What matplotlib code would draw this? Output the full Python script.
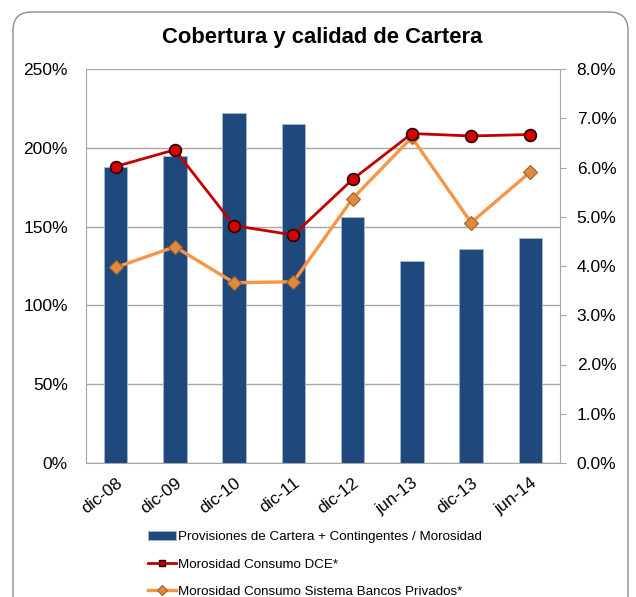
import numpy as np
import matplotlib
matplotlib.use("Agg")
import matplotlib.pyplot as plt
from matplotlib.patches import FancyBboxPatch
from matplotlib.lines import Line2D
from matplotlib.ticker import FuncFormatter

plt.rcParams['font.family'] = ['Liberation Sans', 'DejaVu Sans']

# data
categories = ['dic-08', 'dic-09', 'dic-10', 'dic-11', 'dic-12', 'jun-13', 'dic-13', 'jun-14']
cobertura = [188, 195, 222, 215, 156, 128, 136, 143]            # % left axis
mora_dce = [6.02, 6.36, 4.82, 4.63, 5.76, 6.69, 6.64, 6.67]       # % right axis
mora_bancos = [3.97, 4.39, 3.66, 3.68, 5.37, 6.61, 4.88, 5.91]    # % right axis

labels = ['Provisiones de Cartera + Contingentes / Morosidad',
          'Morosidad Consumo DCE*',
          'Morosidad Consumo Sistema Bancos Privados*']

W, H = 636, 597
fig = plt.figure(figsize=(W / 100, H / 100), dpi=100)

# rounded frame round the chart
frame = FancyBboxPatch((13 / W, -0.05), 615 / W, 1 - 12 / H + 0.05,
                       boxstyle="round,pad=0,rounding_size=0.03",
                       transform=fig.transFigure, facecolor='white',
                       edgecolor='#8c8c8c', lw=1.0, zorder=-10)
fig.patches.append(frame)

ax = fig.add_axes([86 / W, 1 - 463 / H, 474 / W, 394 / H])
ax.patch.set_alpha(0)
x = np.arange(len(categories))

bars = ax.bar(x, cobertura, width=0.4, color='#1F497D', edgecolor='#a7b9d1',
              linewidth=0.6, zorder=2)
ax.set_xlim(-0.5, len(categories) - 0.5)
ax.set_ylim(0, 250)
ax.set_yticks(np.arange(0, 251, 50))
ax.yaxis.set_major_formatter(FuncFormatter(lambda v, p: f"{v:.0f}%"))
ax.grid(axis='y', color='#a6a6a6', lw=1.0, zorder=0)
ax.set_axisbelow(True)
ax.set_xticks(x)
ax.set_xticklabels(categories, rotation=38, ha='right', rotation_mode='anchor')
ax.tick_params(axis='x', length=0, pad=9, labelsize=12.5)
ax.tick_params(axis='y', length=0, pad=13, labelsize=12.5)
for s in ['top', 'right']:
    ax.spines[s].set_visible(False)
for s in ['left', 'bottom']:
    ax.spines[s].set_color('#a6a6a6')

ax2 = ax.twinx()
l1, = ax2.plot(x, mora_dce, color='#C00000', lw=2.0, marker='o', ms=8.5,
               mfc='#d80000', mec='#2a0000', mew=1.2, zorder=4)
l2, = ax2.plot(x, mora_bancos, color='#F79646', lw=2.4, marker='D', ms=7.5,
               mfc='#e08a3e', mec='#a0602a', mew=0.8, zorder=3)
ax2.set_ylim(0, 8)
ax2.set_yticks(np.arange(0, 8.01, 1))
ax2.yaxis.set_major_formatter(FuncFormatter(lambda v, p: f"{v:.1f}%"))
ax2.tick_params(axis='y', length=4, color='#a6a6a6', pad=8, labelsize=12.5)
for s in ['top', 'left', 'bottom']:
    ax2.spines[s].set_visible(False)
ax2.spines['right'].set_color('#a6a6a6')

fig.text(322 / W, 1 - 37 / H, 'Cobertura y calidad de Cartera', ha='center',
         va='center', fontsize=15.8, fontweight='bold')

# smaller markers in the legend, like the original
h1 = Line2D([], [], color='#C00000', lw=2.0, marker='s', ms=5,
            mfc='#c00000', mec='#2a0000', mew=1.0)
h2 = Line2D([], [], color='#F79646', lw=2.4, marker='D', ms=5,
            mfc='#e08a3e', mec='#a0602a', mew=0.8)
leg = fig.legend([bars, h1, h2], labels, loc='upper left',
                 bbox_to_anchor=(148 / W, 1 - 531 / H), frameon=False,
                 fontsize=9.6, handlelength=2.1, handletextpad=0.15,
                 labelspacing=1.12, borderaxespad=0, borderpad=0)

fig.savefig('out.png', dpi=100)
